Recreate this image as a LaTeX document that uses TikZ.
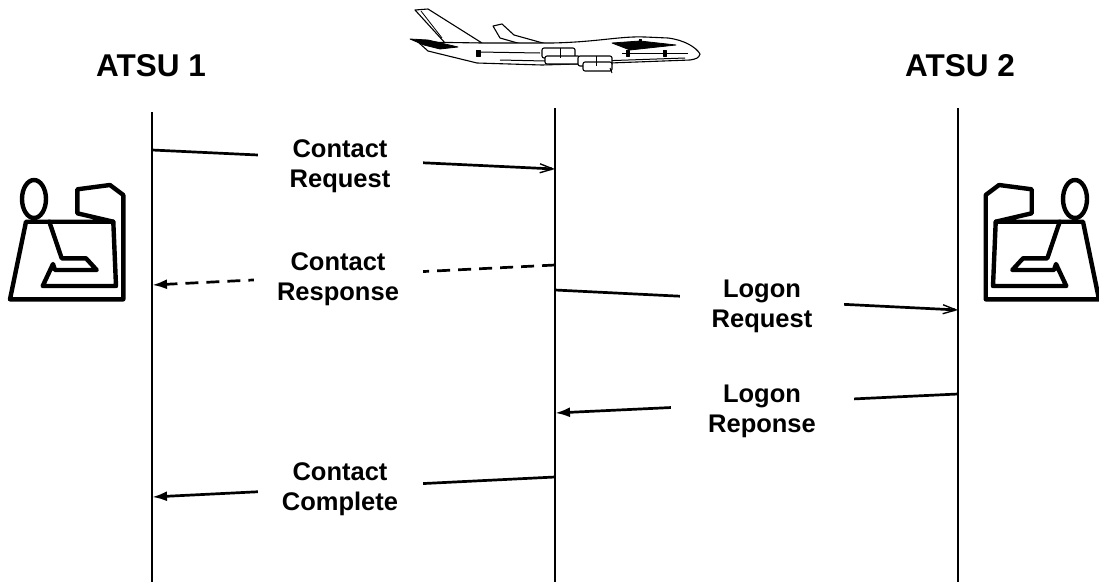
\documentclass[tikz,border=0pt]{standalone}
\usepackage{fontspec}
\setmainfont{Liberation Sans}
\usetikzlibrary{arrows.meta}
\begin{document}
\begin{tikzpicture}[x=1pt,y=-1pt,
  lifeline/.style={line width=1.8pt},
  msg/.style={line width=2.7pt},
  reqmsg/.style={msg,-{Straight Barb[length=13pt,width=9pt,line width=1.4pt]}},
  respmsg/.style={msg,-{Latex[length=15pt,width=10pt]}},
  dashmsg/.style={respmsg,dash pattern=on 13pt off 8pt},
  title/.style={font=\fontsize{31.5}{36}\selectfont\bfseries,anchor=base,inner sep=0pt},
  lbl/.style={font=\fontsize{25.5}{30}\selectfont\bfseries,align=center,fill=white,anchor=north,inner xsep=0pt,inner ysep=0pt},
  icon/.style={line width=4.4pt,line join=round,line cap=round},
  plane/.style={line width=1.1pt,line join=round,fill=white},
  planedark/.style={line width=0.8pt,line join=round,fill=black}]
\useasboundingbox (0,0) rectangle (1099,584);

% titles
\node[title] (atsu1) at (151,76) {ATSU 1};
\node[title] (atsu2) at (960,76) {ATSU 2};

% lifelines
\coordinate (l1top) at (152,112);
\coordinate (l1bot) at (152,582);
\coordinate (l2top) at (555,108);
\coordinate (l2bot) at (555,582);
\coordinate (l3top) at (958,108);
\coordinate (l3bot) at (958,582);
\draw[lifeline] (l1top) -- (l1bot);
\draw[lifeline] (l2top) -- (l2bot);
\draw[lifeline] (l3top) -- (l3bot);

% message end points
\coordinate (cra) at (152,150);
\coordinate (crb) at (555,169);
\coordinate (csa) at (555,265);
\coordinate (csb) at (152,285);
\coordinate (lra) at (555,290);
\coordinate (lrb) at (958,310);
\coordinate (lsa) at (958,394);
\coordinate (lsb) at (555,413);
\coordinate (cca) at (555,477);
\coordinate (ccb) at (152,497);

\draw[reqmsg] (cra) -- (crb);
\draw[dashmsg] (csa) -- (csb);
\draw[reqmsg] (lra) -- (lrb);
\draw[respmsg] (lsa) -- (lsb);
\draw[respmsg] (cca) -- (ccb);

\node[lbl,minimum width=165pt] (crl) at (340,139) {Contact\\Request};
\node[lbl,minimum width=169pt] (csl) at (338,252) {Contact\\Response};
\node[lbl,minimum width=164pt] (lrl) at (762,280) {Logon\\Request};
\node[lbl,minimum width=183pt] (lsl) at (762,385) {Logon\\Reponse};
\node[lbl,minimum width=165pt] (ccl) at (340,462) {Contact\\Complete};

% controller icons
\begin{scope}
  \draw[icon] (34,199) ellipse [x radius=12pt, y radius=19pt];
  \draw[icon] (49.3,221.7) -- (26,221.7) -- (10,299.3) -- (123.3,299.3) -- (123.3,195) -- (110,185) -- (77.3,189.3) -- (77.3,213.3) -- (113.3,221.7) -- cycle;
  \draw[icon] (49.3,221.7) -- (61.7,258.3) -- (86,258.3) -- (96.7,270) -- (55,270) -- (53,264) -- (42.7,286) -- (116,286) -- (113.3,221.7);
\end{scope}
\begin{scope}[shift={(1109,0)},xscale=-1]
  \draw[icon] (34,199) ellipse [x radius=12pt, y radius=19pt];
  \draw[icon] (49.3,221.7) -- (26,221.7) -- (10,299.3) -- (123.3,299.3) -- (123.3,195) -- (110,185) -- (77.3,189.3) -- (77.3,213.3) -- (113.3,221.7) -- cycle;
  \draw[icon] (49.3,221.7) -- (61.7,258.3) -- (86,258.3) -- (96.7,270) -- (55,270) -- (53,264) -- (42.7,286) -- (116,286) -- (113.3,221.7);
\end{scope}

% airplane
\begin{scope}
  % tail fin
  \draw[plane] (415,10) -- (428,9) -- (482,43) -- (446,44) -- cycle;
  \draw[line width=0.8pt] (421,11) -- (442,38);
  % far wing
  \draw[plane] (493,26) -- (502,24) -- (514,35) -- (568,50) -- (556,54) -- (500,38) -- cycle;
  % fuselage
  \draw[plane] (418,42) -- (482,43) -- (552,43) .. controls (598,42) and (620,36) .. (645,37) -- (668,38) .. controls (684,40) and (696,47) .. (700,54) .. controls (699,58) and (696,59) .. (690,60) -- (610,63) -- (542,65) -- (477,63) -- (428,51) -- cycle;
  % horizontal stabiliser
  \draw[planedark] (410,39) -- (428,40) -- (458,47) -- (440,49) -- (424,45) -- cycle;
  % near wing seen from above
  \draw[planedark] (612,43) -- (640,41) -- (676,45) -- (630,50) -- cycle;
  % window lines and doors
  \draw[line width=1pt] (478,52) -- (540,53);
  \draw[line width=1pt] (622,53) -- (688,53);
  \draw[planedark] (476,50) rectangle (480,56);
  \draw[planedark] (626,50) rectangle (629,56);
  \draw[planedark] (663,50) rectangle (666,56);
  \draw[planedark] (639,39) rectangle (641,42);
  % belly lines
  \draw[line width=1pt] (500,60) -- (545,61);
  \draw[line width=1pt] (600,61) -- (685,58);
  % engines
  \draw[plane,rounded corners=2pt] (542,48) rectangle (575,58);
  \draw[plane,rounded corners=2pt] (545,56) rectangle (580,64);
  \draw[plane,rounded corners=2pt] (578,56) rectangle (612,66);
  \draw[plane,rounded corners=2pt] (583,62) rectangle (612,71);
  \draw[line width=1pt] (560,48) -- (560,58);
  \draw[line width=1pt] (596,56) -- (596,66);
  \draw[line width=1pt] (610,68) -- (612,73);
\end{scope}
\end{tikzpicture}
\end{document}
